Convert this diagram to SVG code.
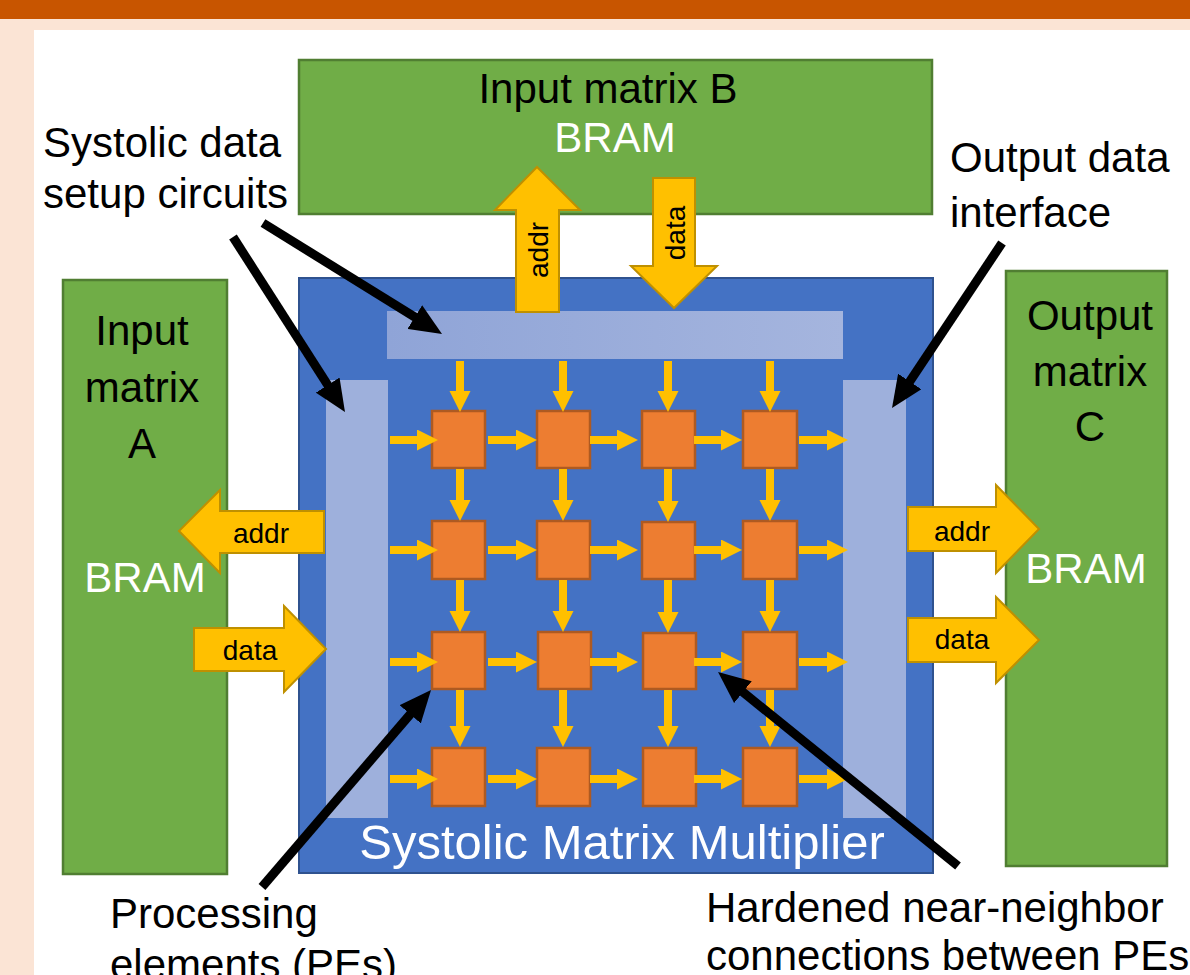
<svg xmlns="http://www.w3.org/2000/svg" width="1190" height="975" viewBox="0 0 1190 975">
<defs>
<style>
.lbl{font-family:"Liberation Sans",Arial,sans-serif;font-size:42px;fill:#000}
.w{fill:#fff}
.mid{text-anchor:middle}
.sm{font-family:"Liberation Sans",Arial,sans-serif;font-size:28px;fill:#000;text-anchor:middle}
.green{fill:#70ad47;stroke:#507e32;stroke-width:2.5}
.pe{fill:#ed7d31;stroke:#ae5a21;stroke-width:2.5}
.blk{fill:#ffc000;stroke:#bf9000;stroke-width:2}
.strip{fill:#9eb0dc}
.ya{stroke:#ffc000;stroke-width:8;fill:none;marker-end:url(#yh)}
.ptr{stroke:#000;stroke-width:9;fill:none;marker-end:url(#bh)}
</style>
<linearGradient id="tg" x1="0" y1="0" x2="1" y2="0">
<stop offset="0" stop-color="#8fa4d7"/>
<stop offset="1" stop-color="#a5b5de"/>
</linearGradient>
<marker id="yh" markerUnits="userSpaceOnUse" markerWidth="22" markerHeight="22" refX="1" refY="10.5" orient="auto">
<path d="M0,0 L21,10.5 L0,21 z" fill="#ffc000"/>
</marker>
<marker id="bh" markerUnits="userSpaceOnUse" markerWidth="32" markerHeight="28" refX="12" refY="14" orient="auto">
<path d="M0,0 L32,14 L0,28 z" fill="#000"/>
</marker>
</defs>

<rect x="0" y="0" width="1190" height="975" fill="#fbe4d5"/>
<rect x="0" y="0" width="1190" height="19" fill="#c85500"/>
<rect x="34" y="30" width="1156" height="945" fill="#fff"/>

<g id="matrixB">
<rect class="green" x="299" y="60" width="633" height="154"/>
<text class="lbl mid" x="608" y="103">Input matrix B</text>
<text class="lbl mid w" x="615" y="152">BRAM</text>
</g>

<g id="matrixA">
<rect class="green" x="63" y="280" width="164" height="594"/>
<text class="lbl mid" x="142" y="345">Input</text>
<text class="lbl mid" x="142" y="402">matrix</text>
<text class="lbl mid" x="142" y="458">A</text>
<text class="lbl mid w" x="145" y="592">BRAM</text>
</g>

<g id="matrixC">
<rect class="green" x="1006" y="271" width="161" height="595"/>
<text class="lbl mid" x="1090" y="330">Output</text>
<text class="lbl mid" x="1090" y="386">matrix</text>
<text class="lbl mid" x="1090" y="441">C</text>
<text class="lbl mid w" x="1086" y="583">BRAM</text>
</g>

<g id="multiplier">
<rect x="299" y="278" width="634" height="595" fill="#4472c4" stroke="#2f528f" stroke-width="2"/>
<rect x="387" y="311" width="456" height="48" fill="url(#tg)"/>
<rect class="strip" x="326" y="380" width="62" height="438"/>
<rect class="strip" x="843" y="380" width="63" height="438"/>
<text class="lbl mid w" x="622" y="859" style="font-size:49px">Systolic Matrix Multiplier</text>
</g>

<g id="pes">
<rect class="pe" x="432" y="411" width="53" height="57"/>
<rect class="pe" x="537" y="411" width="53" height="57"/>
<rect class="pe" x="642" y="411" width="53" height="57"/>
<rect class="pe" x="743" y="411" width="54" height="57"/>
<rect class="pe" x="432" y="521" width="53" height="58"/>
<rect class="pe" x="537" y="521" width="53" height="58"/>
<rect class="pe" x="642" y="522" width="53" height="57"/>
<rect class="pe" x="743" y="521" width="54" height="58"/>
<rect class="pe" x="432" y="632" width="53" height="57"/>
<rect class="pe" x="538" y="632" width="53" height="57"/>
<rect class="pe" x="643" y="633" width="53" height="56"/>
<rect class="pe" x="743" y="632" width="54" height="57"/>
<rect class="pe" x="432" y="748" width="53" height="58"/>
<rect class="pe" x="537" y="748" width="53" height="58"/>
<rect class="pe" x="643" y="748" width="53" height="58"/>
<rect class="pe" x="743" y="748" width="54" height="58"/>
</g>

<g id="busArrows">
<polygon class="blk" points="516,312 516,210 495,210 537,167 580,210 559,210 559,312"/>
<text class="sm" transform="translate(548,250) rotate(-90)">addr</text>
<polygon class="blk" points="653,178 695,178 695,266 717,266 674,308 631,266 653,266"/>
<text class="sm" transform="translate(685,233) rotate(-90)">data</text>
<polygon class="blk" points="324,511 220,511 220,490 179,531 220,573 220,553 324,553"/>
<text class="sm" x="261" y="543">addr</text>
<polygon class="blk" points="194,628 284,628 284,606 326,649 284,692 284,671 194,671"/>
<text class="sm" x="250" y="660">data</text>
<polygon class="blk" points="908,507 996,507 996,485 1039,529 996,573 996,551 908,551"/>
<text class="sm" x="962" y="541">addr</text>
<polygon class="blk" points="908,618 996,618 996,597 1039,640 996,683 996,662 908,662"/>
<text class="sm" x="962" y="649">data</text>
</g>

<g id="connectors">
<line class="ya" x1="390" y1="440" x2="418" y2="440"/>
<line class="ya" x1="488" y1="440" x2="517" y2="440"/>
<line class="ya" x1="590" y1="440" x2="618" y2="440"/>
<line class="ya" x1="694" y1="440" x2="722" y2="440"/>
<line class="ya" x1="799" y1="440" x2="828" y2="440"/>
<line class="ya" x1="390" y1="550" x2="418" y2="550"/>
<line class="ya" x1="488" y1="550" x2="517" y2="550"/>
<line class="ya" x1="590" y1="550" x2="618" y2="550"/>
<line class="ya" x1="694" y1="550" x2="722" y2="550"/>
<line class="ya" x1="799" y1="550" x2="828" y2="550"/>
<line class="ya" x1="390" y1="662" x2="418" y2="662"/>
<line class="ya" x1="488" y1="662" x2="517" y2="662"/>
<line class="ya" x1="590" y1="662" x2="618" y2="662"/>
<line class="ya" x1="694" y1="662" x2="722" y2="662"/>
<line class="ya" x1="799" y1="662" x2="828" y2="662"/>
<line class="ya" x1="390" y1="779" x2="418" y2="779"/>
<line class="ya" x1="488" y1="779" x2="517" y2="779"/>
<line class="ya" x1="590" y1="779" x2="618" y2="779"/>
<line class="ya" x1="694" y1="779" x2="722" y2="779"/>
<line class="ya" x1="799" y1="779" x2="828" y2="779"/>

<line class="ya" x1="460" y1="361" x2="460" y2="392"/>
<line class="ya" x1="563" y1="361" x2="563" y2="392"/>
<line class="ya" x1="668" y1="361" x2="668" y2="392"/>
<line class="ya" x1="770" y1="361" x2="770" y2="392"/>
<line class="ya" x1="460" y1="469" x2="460" y2="501"/>
<line class="ya" x1="563" y1="469" x2="563" y2="501"/>
<line class="ya" x1="668" y1="469" x2="668" y2="502"/>
<line class="ya" x1="770" y1="469" x2="770" y2="501"/>
<line class="ya" x1="460" y1="580" x2="460" y2="612"/>
<line class="ya" x1="563" y1="580" x2="563" y2="612"/>
<line class="ya" x1="668" y1="580" x2="668" y2="613"/>
<line class="ya" x1="770" y1="580" x2="770" y2="612"/>
<line class="ya" x1="460" y1="690" x2="460" y2="727"/>
<line class="ya" x1="563" y1="690" x2="563" y2="727"/>
<line class="ya" x1="668" y1="690" x2="668" y2="727"/>
<line class="ya" x1="770" y1="690" x2="770" y2="727"/>

<line class="ptr" x1="263" y1="223" x2="425" y2="323.4"/>
<line class="ptr" x1="233" y1="237" x2="334.2" y2="395.2"/>
<line class="ptr" x1="1002" y1="243" x2="903.1" y2="391.4"/>
<line class="ptr" x1="262" y1="887" x2="418" y2="705.2"/>
<line class="ptr" x1="958" y1="866" x2="733.6" y2="684.6"/>
</g>

<g id="labels">
<text class="lbl" x="43" y="157">Systolic data</text>
<text class="lbl" x="43" y="208">setup circuits</text>
<text class="lbl" x="950" y="172">Output data</text>
<text class="lbl" x="950" y="227">interface</text>
<text class="lbl" x="110" y="928">Processing</text>
<text class="lbl" x="110" y="979">elements (PEs)</text>
<text class="lbl" x="706" y="922">Hardened near-neighbor</text>
<text class="lbl" x="706" y="970">connections between PEs</text>
</g>
</svg>
